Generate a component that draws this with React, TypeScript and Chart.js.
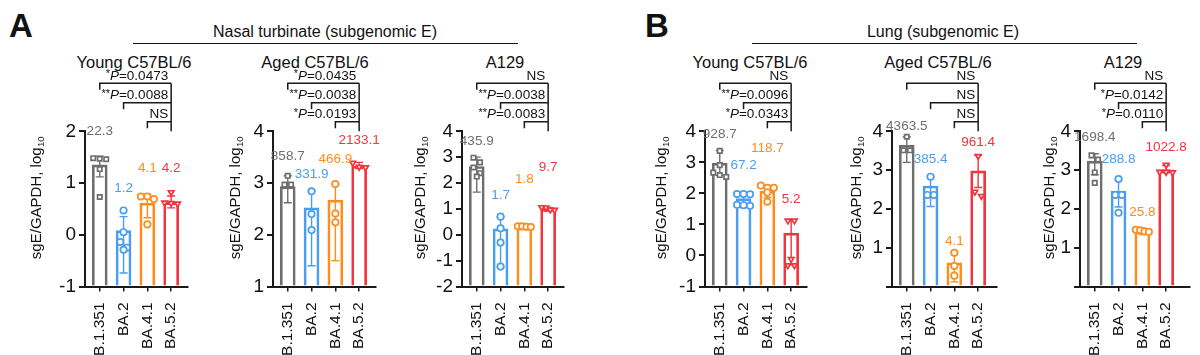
import React, { useEffect, useRef } from "react";
import { Chart, registerables } from "chart.js";

Chart.register(...registerables);

const FONT = "'Liberation Sans', Arial, Helvetica, sans-serif";

const categories = ["B.1.351", "BA.2", "BA.4.1", "BA.5.2"];

// A – Nasal turbinate, Young C57BL/6
const nasalYoungMeans = [1.35, 0.08, 0.61, 0.62];
const nasalYoungErrLow = [1.12, -0.74, 0.33, 0.52];
const nasalYoungErrHigh = [1.52, 0.35, 0.78, 0.75];
const nasalYoungPoints = [[1.48, 1.47, 1.46, 1.27, 0.73], [0.47, 0.05, -0.14, -0.25, -0.29], [0.74, 0.69, 0.74, 0.2], [0.82, 0.62, 0.61, 0.6]];
const nasalYoungLabels = ["22.3", "1.2", "4.1", "4.2"];
const nasalYoungStats = ["*P=0.0473", "**P=0.0088", "NS"];

// A – Nasal turbinate, Aged C57BL/6
const nasalAgedMeans = [2.93, 2.52, 2.67, 3.33];
const nasalAgedErrLow = [2.62, 1.4, 1.5, 3.28];
const nasalAgedErrHigh = [3.14, 2.84, 2.98, 3.4];
const nasalAgedPoints = [[3.14, 2.97, 2.97], [2.84, 2.4, 2.09], [2.98, 2.41, 2.24], [3.39, 3.31, 3.3]];
const nasalAgedLabels = ["858.7", "331.9", "466.9", "2133.1"];
const nasalAgedStats = ["*P=0.0435", "**P=0.0038", "*P=0.0193"];

// A – Nasal turbinate, A129
const nasalA129Means = [2.64, 0.23, 0.26, 0.99];
const nasalA129ErrLow = [1.65, -1.25, 0.21, 0.92];
const nasalA129ErrHigh = [3.0, 0.7, 0.33, 1.06];
const nasalA129Points = [[2.98, 2.8, 2.6, 2.38, 2.25], [0.7, 0.25, -0.3, -1.23], [0.33, 0.31, 0.33, 0.3], [1.06, 0.97, 0.96, 1.05]];
const nasalA129Labels = ["435.9", "1.7", "1.8", "9.7"];
const nasalA129Stats = ["NS", "**P=0.0038", "**P=0.0083"];

// B – Lung, Young C57BL/6
const lungYoungMeans = [2.97, 1.83, 2.07, 0.72];
const lungYoungErrLow = [2.58, 1.66, 1.87, -0.3];
const lungYoungErrHigh = [3.38, 1.98, 2.24, 1.12];
const lungYoungPoints = [[3.37, 2.91, 2.67, 2.59, 2.53], [1.98, 1.98, 1.97, 1.62, 1.6, 1.63], [2.25, 2.18, 2.18, 2.03, 1.73], [1.12, 1.12, -0.12, -0.32, -0.32]];
const lungYoungLabels = ["928.7", "67.2", "118.7", "5.2"];
const lungYoungStats = ["NS", "**P=0.0096", "*P=0.0343"];

// B – Lung, Aged C57BL/6
const lungAgedMeans = [3.64, 2.59, 0.61, 2.98];
const lungAgedErrLow = [3.2, 2.06, 0.12, 2.55];
const lungAgedErrHigh = [3.86, 2.84, 0.88, 3.38];
const lungAgedPoints = [[3.86, 3.51, 3.51], [2.83, 2.36, 2.36], [0.87, 0.53, 0.28], [3.36, 2.44, 2.33]];
const lungAgedLabels = ["4363.5", "385.4", "4.1", "961.4"];
const lungAgedStats = ["NS", "NS", "NS"];

// B – Lung, A129
const lungA129Means = [3.23, 2.46, 1.41, 3.01];
const lungA129ErrLow = [2.88, 2.05, 1.34, 2.93];
const lungA129ErrHigh = [3.42, 2.75, 1.48, 3.12];
const lungA129Points = [[3.38, 3.27, 2.94, 2.67], [2.77, 2.36, 2.36, 1.9], [1.46, 1.42, 1.41, 1.45], [3.13, 2.95, 2.94, 2.95]];
const lungA129Labels = ["1698.4", "288.8", "25.8", "1022.8"];
const lungA129Stats = ["NS", "*P=0.0142", "*P=0.0110"];

const COLORS = ["#6e6e6e", "#4a9ef2", "#ff8c1c", "#f3343f"];
const SHAPES = ["rect", "circle", "circle", "triangle"];

const H = 355;
const PLOT_TOP = 131.3;
const PLOT_BOTTOM = 286.5;
const AXIS_OFFSET = 85; // canvas left edge = axisX - AXIS_OFFSET
const CANVAS_W = 205;
const X_MIN = -0.62;
const PX_PER_CAT = 23.8;

type PanelDef = {
  means: number[]; errLow: number[]; errHigh: number[]; points: number[][];
  labels: string[]; stats: string[]; yMin: number; yMax: number;
  axisX: number; xMax: number; yTitleX: number; lift: number[]; hideZero?: boolean;
};

const panels: PanelDef[] = [
  { means: nasalYoungMeans, errLow: nasalYoungErrLow, errHigh: nasalYoungErrHigh, points: nasalYoungPoints, labels: nasalYoungLabels, stats: nasalYoungStats, yMin: -1, yMax: 2, axisX: 85, xMax: 3.7, yTitleX: 37, lift: [25, 22, 26, 24] },
  { means: nasalAgedMeans, errLow: nasalAgedErrLow, errHigh: nasalAgedErrHigh, points: nasalAgedPoints, labels: nasalAgedLabels, stats: nasalAgedStats, yMin: 1, yMax: 4, axisX: 273, xMax: 3.7, yTitleX: 236, lift: [19.5, 17, 25, 22] },
  { means: nasalA129Means, errLow: nasalA129ErrLow, errHigh: nasalA129ErrHigh, points: nasalA129Points, labels: nasalA129Labels, stats: nasalA129Stats, yMin: -2, yMax: 4, axisX: 462, xMax: 3.65, yTitleX: 421, lift: [16, 21.6, 47, 40] },
  { means: lungYoungMeans, errLow: lungYoungErrLow, errHigh: lungYoungErrHigh, points: lungYoungPoints, labels: lungYoungLabels, stats: lungYoungStats, yMin: -1, yMax: 4, axisX: 705, xMax: 3.65, yTitleX: 662, lift: [16, 29, 37, 21] },
  { means: lungAgedMeans, errLow: lungAgedErrLow, errHigh: lungAgedErrHigh, points: lungAgedPoints, labels: lungAgedLabels, stats: lungAgedStats, yMin: 0, yMax: 4, axisX: 892, xMax: 3.8, yTitleX: 857, lift: [10, 17, 11, 13.5], hideZero: true },
  { means: lungA129Means, errLow: lungA129ErrLow, errHigh: lungA129ErrHigh, points: lungA129Points, labels: lungA129Labels, stats: lungA129Stats, yMin: 0, yMax: 4, axisX: 1080, xMax: 4.0, yTitleX: 1050, lift: [17, 20, 17, 17.5], hideZero: true },
];

function swarm(values: number[], pxPerY: number) {
  const order = values.map((_, i) => i).sort((a, b) => values[b] - values[a]);
  const out: { dx: number; y: number }[] = [];
  let group: number[] = [];
  const flush = () => {
    const n = group.length;
    const step = n > 1 ? Math.min(6.5, 13 / (n - 1)) : 0;
    group.forEach((k, j) => out.push({ dx: ((j - (n - 1) / 2) * step) / PX_PER_CAT, y: values[k] }));
    group = [];
  };
  for (const k of order) {
    if (group.length && (values[group[0]] - values[k]) * pxPerY > 6) flush();
    group.push(k);
  }
  flush();
  return out;
}

function drawStat(ctx: CanvasRenderingContext2D, text: string, xRight: number, baseline: number) {
  const m = text.match(/^(\**)P(=.*)$/);
  ctx.fillStyle = "#111";
  ctx.textBaseline = "alphabetic";
  ctx.textAlign = "left";
  if (!m) {
    ctx.font = `13.5px ${FONT}`;
    const w = ctx.measureText(text).width;
    ctx.fillText(text, xRight - w, baseline);
    return;
  }
  const [, stars, rest] = m;
  ctx.font = `11px ${FONT}`;
  const ws = ctx.measureText(stars).width;
  ctx.font = `italic 13.5px ${FONT}`;
  const wp = ctx.measureText("P").width;
  ctx.font = `13.5px ${FONT}`;
  const wr = ctx.measureText(rest).width;
  let x = xRight - ws - wp - wr;
  ctx.font = `11px ${FONT}`;
  ctx.fillText(stars, x, baseline - 2.5);
  x += ws;
  ctx.font = `italic 13.5px ${FONT}`;
  ctx.fillText("P", x, baseline);
  x += wp;
  ctx.font = `13.5px ${FONT}`;
  ctx.fillText(rest, x, baseline);
}

function Panel({ p }: { p: PanelDef }) {
  const ref = useRef<HTMLCanvasElement>(null);
  const left = p.axisX - AXIS_OFFSET;
  useEffect(() => {
    const plotRight = AXIS_OFFSET + (p.xMax - X_MIN) * PX_PER_CAT;
    const pxPerY = (PLOT_BOTTOM - PLOT_TOP) / (p.yMax - p.yMin);
    const overlay = {
      id: "overlay",
      beforeDatasetsDraw(chart: any) {
        const { ctx, scales } = chart;
        ctx.save();
        ctx.lineWidth = 1.4;
        categories.forEach((_, i) => {
          const x = scales.x.getPixelForValue(i);
          const y1 = scales.y.getPixelForValue(p.errLow[i]);
          const y2 = scales.y.getPixelForValue(p.errHigh[i]);
          ctx.strokeStyle = COLORS[i];
          ctx.beginPath();
          ctx.moveTo(x, y1); ctx.lineTo(x, y2);
          ctx.moveTo(x - 4, y1); ctx.lineTo(x + 4, y1);
          ctx.moveTo(x - 4, y2); ctx.lineTo(x + 4, y2);
          ctx.stroke();
        });
        ctx.restore();
      },
      afterDatasetsDraw(chart: any) {
        const { ctx, scales } = chart;
        ctx.save();
        ctx.font = `13.5px ${FONT}`;
        ctx.textAlign = "center";
        ctx.textBaseline = "middle";
        categories.forEach((_, i) => {
          const top = Math.max(p.errHigh[i], ...p.points[i]);
          const x = scales.x.getPixelForValue(i);
          const y = scales.y.getPixelForValue(top) - p.lift[i];
          ctx.fillStyle = COLORS[i];
          ctx.fillText(p.labels[i], x, y);
        });
        ctx.restore();
      },
      afterDraw(chart: any) {
        const { ctx, scales, chartArea } = chart;
        ctx.save();
        const rows = [-48, -28.6, -9.6];
        const xr = scales.x.getPixelForValue(3);
        ctx.strokeStyle = "#1a1a1a";
        ctx.lineWidth = 1.5;
        ctx.beginPath();
        ctx.moveTo(xr, chartArea.top + rows[0]);
        ctx.lineTo(xr, chartArea.top);
        rows.forEach((dy, r) => {
          const yl = chartArea.top + dy;
          const xl = scales.x.getPixelForValue(r);
          ctx.moveTo(xl, yl + 6.5);
          ctx.lineTo(xl, yl);
          ctx.lineTo(xr, yl);
        });
        ctx.stroke();
        rows.forEach((dy, r) => drawStat(ctx, p.stats[r], xr - 3, chartArea.top + dy - 3.5));
        const tx = p.yTitleX - left;
        const ty = 198;
        ctx.translate(tx, ty);
        ctx.rotate(-Math.PI / 2);
        ctx.fillStyle = "#111";
        ctx.textBaseline = "middle";
        ctx.textAlign = "left";
        ctx.font = `15px ${FONT}`;
        const main = "sgE/GAPDH, log";
        const w1 = ctx.measureText(main).width;
        ctx.font = `9.5px ${FONT}`;
        const w2 = ctx.measureText("10").width;
        const start = -(w1 + w2) / 2;
        ctx.font = `15px ${FONT}`;
        ctx.fillText(main, start, 0);
        ctx.font = `9.5px ${FONT}`;
        ctx.fillText("10", start + w1 + 0.5, 4.5);
        ctx.restore();
      },
    };

    const chart = new Chart(ref.current as HTMLCanvasElement, {
      type: "bar",
      data: {
        datasets: [
          {
            type: "bar",
            data: p.means.map((m, i) => ({ x: i, y: m })),
            base: p.yMin,
            backgroundColor: "rgba(255,255,255,0)",
            borderColor: COLORS,
            borderWidth: 2,
            barThickness: 15,
            order: 3,
          } as any,
          ...categories.map((_, i) => ({
            type: "scatter",
            data: swarm(p.points[i], pxPerY).map((s) => ({ x: i + s.dx, y: s.y })),
            pointStyle: SHAPES[i],
            rotation: i === 3 ? 180 : 0,
            pointRadius: i === 0 ? 3.1 : 3.2,
            pointBorderWidth: 1.7,
            borderColor: COLORS[i],
            backgroundColor: "#ffffff",
            order: 1,
          } as any)),
        ],
      },
      options: {
        responsive: false,
        animation: false,
        devicePixelRatio: 1,
        events: [],
        layout: { padding: { left: 0, top: PLOT_TOP, right: CANVAS_W - plotRight, bottom: 0 } },
        plugins: { legend: { display: false }, tooltip: { enabled: false } },
        scales: {
          x: {
            type: "linear",
            offset: false,
            min: X_MIN,
            max: p.xMax,
            afterBuildTicks: (s: any) => { s.ticks = categories.map((_, i) => ({ value: i })); },
            afterFit: (s: any) => { s.height = H - PLOT_BOTTOM; s.paddingLeft = 0; s.paddingRight = 0; },
            ticks: {
              autoSkip: false,
              maxRotation: 90,
              minRotation: 90,
              padding: 11,
              color: "#111",
              font: { size: 15.5, family: FONT },
              callback: (v: any) => categories[v] ?? "",
            },
            grid: { offset: false, drawOnChartArea: false, drawTicks: true, tickLength: 5, color: "#1a1a1a", lineWidth: 1.5 },
            border: { display: true, color: "#1a1a1a", width: 2 },
          },
          y: {
            min: p.yMin,
            max: p.yMax,
            afterFit: (s: any) => { s.width = AXIS_OFFSET; },
            ticks: {
              stepSize: 1,
              padding: 3,
              color: "#111",
              font: { size: 19, family: FONT },
              callback: (v: any) => (p.hideZero && v === 0 ? "" : String(v)),
            },
            grid: { drawOnChartArea: false, drawTicks: true, tickLength: 6, color: "#1a1a1a", lineWidth: 2 },
            border: { display: true, color: "#1a1a1a", width: 2 },
          },
        },
      },
      plugins: [overlay],
    } as any);
    return () => chart.destroy();
  }, []);
  return (
    <canvas
      ref={ref}
      width={CANVAS_W}
      height={H}
      style={{ position: "absolute", left, top: 0, width: CANVAS_W, height: H }}
    />
  );
}

const txt = (s: string, x: number, y: number, size: number, bold = false) => (
  <div
    key={s + x}
    style={{
      position: "absolute", left: x, top: y, transform: "translate(-50%, -50%)",
      whiteSpace: "nowrap", fontFamily: FONT, fontSize: size, fontWeight: bold ? 700 : 400, color: "#111", lineHeight: 1,
    }}
  >
    {s}
  </div>
);

export default function App() {
  return (
    <div style={{ position: "absolute", left: 0, top: 0, width: 1200, height: 355, background: "#fff", overflow: "hidden" }}>
      {txt("A", 21, 25, 33, true)}
      {txt("B", 657, 25, 33, true)}
      {txt("Nasal turbinate (subgenomic E)", 325, 32, 16)}
      {txt("Lung (subgenomic E)", 943, 32, 16)}
      <div style={{ position: "absolute", left: 133, top: 42.5, width: 385, height: 1.5, background: "#111" }} />
      <div style={{ position: "absolute", left: 752, top: 42.5, width: 385, height: 1.5, background: "#111" }} />
      {txt("Young C57BL/6", 134, 62, 16.5)}
      {txt("Aged C57BL/6", 315, 62, 16.5)}
      {txt("A129", 505, 62, 16.5)}
      {txt("Young C57BL/6", 750, 62, 16.5)}
      {txt("Aged C57BL/6", 938, 62, 16.5)}
      {txt("A129", 1123, 62, 16.5)}
      {panels.map((p, i) => <Panel key={i} p={p} />)}
    </div>
  );
}
